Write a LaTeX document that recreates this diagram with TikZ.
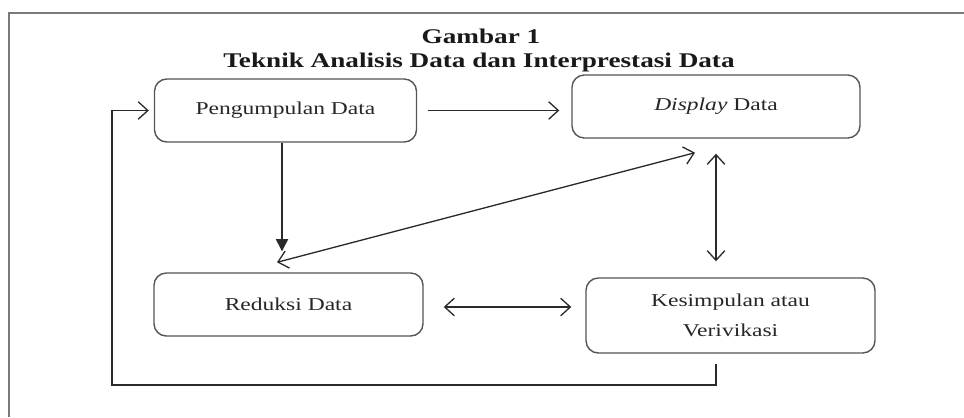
\documentclass[tikz,border=0pt]{standalone}
\usepackage{fontspec}
\setmainfont[FakeStretch=1.3]{Liberation Serif}
\usetikzlibrary{arrows.meta}
\definecolor{boxEdge}{HTML}{555555}
\definecolor{lineInk}{HTML}{2A2A2A}
\definecolor{frameInk}{HTML}{7A7A7A}

\begin{document}
\begin{tikzpicture}[
  procbox/.style={draw=boxEdge, line width=0.8pt, rounded corners=7pt, minimum height=1.26cm, align=center, text=black!85, font=\fontsize{10.3}{17}\selectfont},
  link/.style={draw=lineInk, line width=0.75pt, -{Straight Barb[length=5.5pt, width=10pt]}},
  duallink/.style={link, {Straight Barb[length=5.5pt, width=10pt]}-{Straight Barb[length=5.5pt, width=10pt]}}
]
\useasboundingbox (0,0) rectangle (19.28,-8.34);
% frame
\draw[frameInk, line width=1pt] (0.18,-8.34) -- (0.18,-0.26) -- (19.28,-0.26);

% title
\node[font=\fontsize{11.9}{14}\bfseries, text=black!90] (judul) at (9.62,-0.72) {Gambar 1};
\node[font=\fontsize{11.9}{14}\bfseries, text=black!90] (subjudul) at (9.58,-1.24) {Teknik Analisis Data dan Interprestasi Data};

% boxes
\node[procbox, minimum width=5.24cm] (pengumpulan) at (5.71,-2.21) {Pengumpulan Data};
\node[procbox, minimum width=5.76cm] (display) at (14.32,-2.13) {\textit{Display} Data};
\node[procbox, minimum width=5.38cm] (reduksi) at (5.77,-6.09) {Reduksi Data};
\node[procbox, minimum width=5.78cm, minimum height=1.5cm] (kesimpulan) at (14.61,-6.31) {Kesimpulan atau\\Verivikasi};

% arrows
\draw[link, shorten <=0.22cm, shorten >=0.24cm] (pengumpulan.east) -- (pengumpulan.east -| display.west);
\draw[link, -{Triangle[length=7pt, width=7pt]}, shorten >=0.42cm] ([xshift=-0.07cm]pengumpulan.south) -- ([xshift=-0.07cm]pengumpulan.south |- reduksi.north);
\draw[duallink] ([xshift=-0.23cm, yshift=0.2cm]reduksi.north) -- ([xshift=-0.42cm, yshift=-0.28cm]display.south);
\draw[duallink, shorten <=0.3cm, shorten >=0.32cm] (display.south) -- (display.south |- kesimpulan.north);
\draw[duallink, shorten <=0.4cm, shorten >=0.28cm] ([yshift=-0.05cm]reduksi.east) -- ([yshift=-0.05cm]reduksi.east -| kesimpulan.west);

% feedback
\coordinate (balik) at (2.24,-7.7);
\draw[link, shorten >=0.1cm] ([xshift=-0.29cm, yshift=-0.2cm]kesimpulan.south) |- (balik) |- (pengumpulan.west);
\end{tikzpicture}
\end{document}
